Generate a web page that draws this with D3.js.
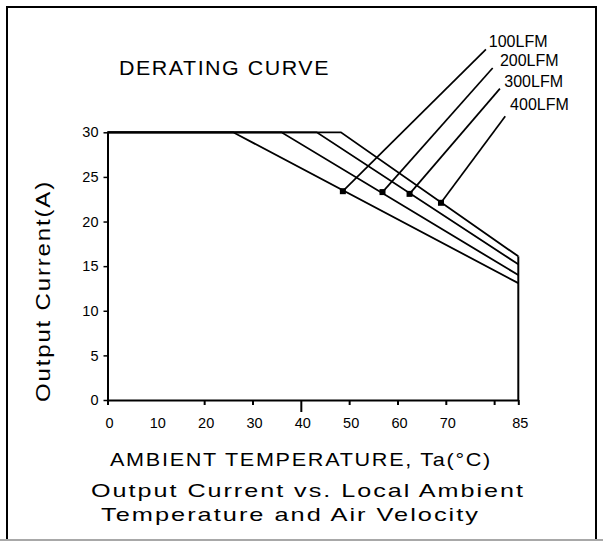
<!DOCTYPE html>
<html>
<head>
<meta charset="utf-8">
<script src="https://cdn.jsdelivr.net/npm/d3@7"></script>
<style>
  body { margin: 0; background: #fff; }
  text { font-family: "Liberation Sans", Arial, sans-serif; fill: #000; }
  .big { letter-spacing: 1.5px; }
</style>
</head>
<body>
<svg id="chart" width="603" height="542"></svg>
<script>
// derating curves: flat at max current until the knee, then linear down to 85C
const airflow = ['100LFM', '200LFM', '300LFM', '400LFM'];
const maxCurrent = 30;
const kneeTemp = [26.0, 36.0, 43.3, 48.3];
const endTemp = 85;
const endCurrent = [13.1, 14.0, 15.2, 16.1];

// callout markers, leader ends and label anchors (data units)
const markerTemp = [48.7, 56.9, 62.5, 69.0];
const markerCurrent = [23.4, 23.3, 23.1, 22.1];
const leaderTemp = [78.3, 79.7, 81.2, 82.3];
const leaderCurrent = [39.3, 37.2, 34.9, 31.8];
const labelTemp = [78.9, 81.2, 82.1, 83.3];
const labelCurrent = [39.6, 37.4, 35.1, 32.5];

// axes
const xTickValues = [0, 20, 30, 40, 50, 60, 70, 80, 85];
const xTickLabels = [0, 10, 20, 30, 40, 50, 60, 70, 85];
const yTickValues = [0, 5, 10, 15, 20, 25, 30];

const WIDTH = 603, HEIGHT = 542;
const MARGIN = { left: 107.5, right: 84.7, top: 132.3, bottom: 142 };

const svg = d3.select('#chart');

// frame
svg.append('path')
    .attr('d', `M7,540 L7,7 L596,7 L596,540`)
    .attr('fill', 'none')
    .attr('stroke', '#000')
    .attr('stroke-width', 2);
svg.append('line')
    .attr('x1', 0).attr('x2', WIDTH)
    .attr('y1', 540).attr('y2', 540)
    .attr('stroke', '#a8a8a8')
    .attr('stroke-width', 2);

const x = d3.scaleLinear()
    .domain([0, endTemp])
    .range([MARGIN.left, WIDTH - MARGIN.right]);

const y = d3.scaleLinear()
    .domain([0, maxCurrent])
    .range([HEIGHT - MARGIN.bottom, MARGIN.top]);

// x axis (ticks only, labels drawn separately)
const xAxis = svg.append('g')
    .attr('transform', `translate(0,${y(0)})`)
    .call(d3.axisBottom(x).tickValues(xTickValues).tickSize(5).tickSizeOuter(0).tickFormat(''));
xAxis.selectAll('line')
    .attr('stroke-width', 2)
    .attr('y2', d => d === 40 ? 12 : 5);
xAxis.select('.domain').attr('stroke-width', 2);

svg.append('g')
    .selectAll('text')
    .data(xTickLabels)
    .join('text')
    .attr('x', d => x(d) + 2)
    .attr('y', 428)
    .attr('text-anchor', 'middle')
    .attr('font-size', 14.5)
    .text(d => d);

// y axis
const yAxis = svg.append('g')
    .attr('transform', `translate(${x(0)},0)`)
    .call(d3.axisLeft(y).tickValues(yTickValues).tickSize(4).tickSizeOuter(0).tickPadding(5));
yAxis.selectAll('line').attr('stroke-width', 1.5);
yAxis.select('.domain').attr('stroke-width', 2);
yAxis.selectAll('text')
    .attr('font-family', '"Liberation Sans", Arial, sans-serif')
    .attr('font-size', 14.5);

// curves
const line = d3.line().x(d => x(d[0])).y(d => y(d[1]));
const curves = airflow.map((name, i) => [
    [0, maxCurrent],
    [kneeTemp[i], maxCurrent],
    [endTemp, endCurrent[i]]
]);

svg.append('g')
    .selectAll('path')
    .data(curves)
    .join('path')
    .attr('d', line)
    .attr('fill', 'none')
    .attr('stroke', '#000')
    .attr('stroke-width', 1.8);

// right edge down to the axis
svg.append('line')
    .attr('x1', x(endTemp)).attr('x2', x(endTemp))
    .attr('y1', y(d3.max(endCurrent))).attr('y2', y(0))
    .attr('stroke', '#000')
    .attr('stroke-width', 2);

// callouts
const callouts = svg.append('g');
callouts.selectAll('line')
    .data(airflow)
    .join('line')
    .attr('x1', (d, i) => x(markerTemp[i]))
    .attr('y1', (d, i) => y(markerCurrent[i]))
    .attr('x2', (d, i) => x(leaderTemp[i]))
    .attr('y2', (d, i) => y(leaderCurrent[i]))
    .attr('stroke', '#000')
    .attr('stroke-width', 1.7);

callouts.selectAll('rect')
    .data(airflow)
    .join('rect')
    .attr('x', (d, i) => x(markerTemp[i]) - 3)
    .attr('y', (d, i) => y(markerCurrent[i]) - 3)
    .attr('width', 6)
    .attr('height', 6)
    .attr('fill', '#000');

callouts.selectAll('text')
    .data(airflow)
    .join('text')
    .attr('x', (d, i) => x(labelTemp[i]))
    .attr('y', (d, i) => y(labelCurrent[i]))
    .attr('font-size', 16)
    .text(d => d);

// titles
svg.append('text')
    .attr('class', 'big')
    .attr('x', 119).attr('y', 75)
    .attr('font-size', 21)
    .attr('textLength', 211)
    .attr('lengthAdjust', 'spacingAndGlyphs')
    .text('DERATING CURVE');

svg.append('text')
    .attr('class', 'big')
    .attr('transform', 'translate(50,291) rotate(-90)')
    .attr('text-anchor', 'middle')
    .attr('font-size', 19.5)
    .attr('textLength', 222)
    .attr('lengthAdjust', 'spacingAndGlyphs')
    .text('Output Current(A)');

const notes = [
    { text: 'AMBIENT TEMPERATURE, Ta(°C)', x: 110, y: 466, w: 382 },
    { text: 'Output Current vs. Local Ambient', x: 91, y: 496.5, w: 434 },
    { text: 'Temperature and Air Velocity', x: 101, y: 520.5, w: 379 }
];
svg.append('g')
    .selectAll('text')
    .data(notes)
    .join('text')
    .attr('class', 'big')
    .attr('x', d => d.x)
    .attr('y', d => d.y)
    .attr('font-size', 19)
    .attr('textLength', d => d.w)
    .attr('lengthAdjust', 'spacingAndGlyphs')
    .text(d => d.text);
</script>
</body>
</html>
